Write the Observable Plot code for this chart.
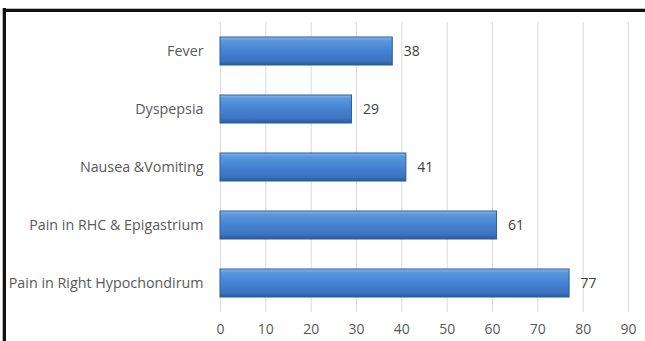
<!DOCTYPE html>
<html>
<head>
<meta charset="utf-8">
<script src="https://cdn.jsdelivr.net/npm/d3@7"></script>
<script src="https://cdn.jsdelivr.net/npm/@observablehq/plot@0.6"></script>
<style>
  html, body { margin: 0; padding: 0; background: #fff; overflow: hidden; }
  #wrap { position: relative; width: 645px; height: 341px; overflow: hidden; }
  #topline { position: absolute; left: 2px; top: 8px; width: 643px; height: 3px; background: #111; border-top: 1px solid #bbb; }
  #leftline { position: absolute; left: 2px; top: 8px; width: 3px; height: 333px; background: #111; border-left: 1px solid #bbb; }
  #chart { position: absolute; left: 0; top: 0; }
</style>
</head>
<body>
<div id="wrap"><div id="topline"></div><div id="leftline"></div><div id="chart"></div></div>
<script>
const categories = ["Fever", "Dyspepsia", "Nausea &Vomiting", "Pain in RHC & Epigastrium", "Pain in Right Hypochondirum"];
const values = [38, 29, 41, 61, 77];
const xTicks = [0, 10, 20, 30, 40, 50, 60, 70, 80, 90];

const data = categories.map((c, i) => ({category: c, value: values[i]}));

const chart = Plot.plot({
  width: 645,
  height: 341,
  marginLeft: 220,
  marginRight: 17,
  marginTop: 22,
  marginBottom: 29,
  style: {fontFamily: "'Open Sans', sans-serif", fontSize: "14px", background: "transparent", color: "#595959"},
  x: {domain: [0, 90], ticks: xTicks, label: null},
  y: {domain: categories, label: null, paddingInner: 0.52, paddingOuter: 0.26},
  marks: [
    Plot.gridX(xTicks, {stroke: "#d9d9d9", strokeOpacity: 1, strokeWidth: 1}),
    Plot.axisX({ticks: xTicks, tickSize: 0, tickPadding: 12, fontSize: 14, fill: "#595959", label: null}),
    Plot.axisY({tickSize: 0, tickPadding: 17, fontSize: 14.3, fill: "#595959", label: null}),
    Plot.barX(data, {x: "value", y: "category", fill: "url(#barGrad)", stroke: "#2a5d9f", strokeWidth: 1}),
    Plot.text(data, {x: "value", y: "category", text: d => String(d.value), textAnchor: "start", dx: 11, fill: "#404040", fontSize: 14})
  ]
});

const ns = "http://www.w3.org/2000/svg";
const defs = document.createElementNS(ns, "defs");
defs.innerHTML = `
  <linearGradient id="barGrad" x1="0" y1="0" x2="0" y2="1">
    <stop offset="0" stop-color="#8dbbec"/>
    <stop offset="0.12" stop-color="#5b98dc"/>
    <stop offset="0.5" stop-color="#4683d2"/>
    <stop offset="0.85" stop-color="#3a73c0"/>
    <stop offset="1" stop-color="#2a5894"/>
  </linearGradient>`;
chart.insertBefore(defs, chart.firstChild);
document.getElementById("chart").appendChild(chart);
</script>
</body>
</html>
